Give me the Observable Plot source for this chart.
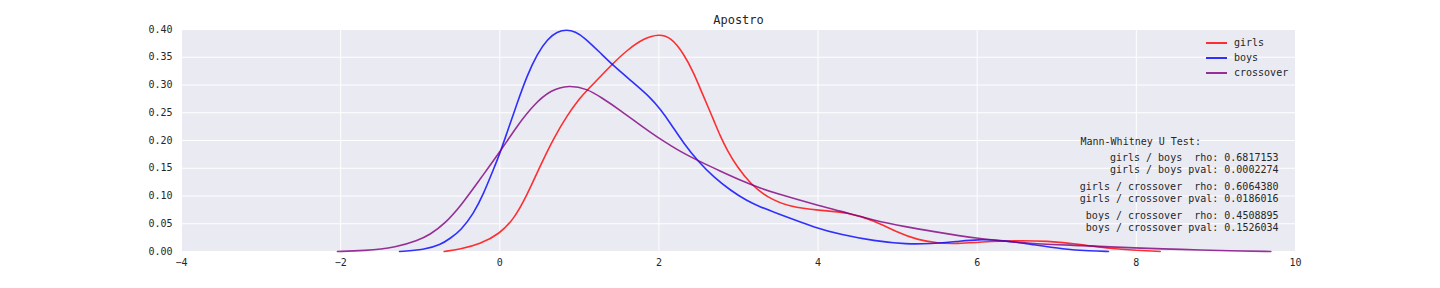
<!DOCTYPE html>
<html>
<head>
<meta charset="utf-8">
<script src="https://cdn.jsdelivr.net/npm/d3@7"></script>
<script src="https://cdn.jsdelivr.net/npm/@observablehq/plot@0.6"></script>
<style>
  html, body { margin: 0; padding: 0; background: #fff; }
  #wrap { position: relative; width: 1440px; height: 288px; }
  #wrap svg text { white-space: pre; }
  #legend { position: absolute; left: 1206px; top: 35px; font: 10px "DejaVu Sans Mono", monospace; color: #262626; }
  #legend .row { display: flex; align-items: center; height: 15px; }
  #legend .sw { display: inline-block; width: 21px; height: 2px; margin-right: 7px; }
</style>
</head>
<body>
<div id="wrap"></div>
<script>
const title = "Apostro";
const seriesNames = ["girls", "boys", "crossover"];
const seriesColors = ["rgba(255,0,0,0.8)", "rgba(0,0,255,0.8)", "rgba(128,0,128,0.8)"];

const girls = [
  [-0.70, 0.000], [-0.5, 0.004], [-0.25, 0.013], [0, 0.032], [0.18, 0.059], [0.34, 0.101],
  [0.51, 0.155], [0.68, 0.205], [0.85, 0.246], [1.01, 0.277], [1.10, 0.291], [1.27, 0.316],
  [1.41, 0.337], [1.60, 0.363], [1.81, 0.384], [2.0, 0.392], [2.15, 0.386], [2.31, 0.357],
  [2.44, 0.321], [2.52, 0.293], [2.61, 0.263], [2.69, 0.236], [2.77, 0.208], [2.86, 0.182],
  [2.98, 0.153], [3.15, 0.122], [3.36, 0.097], [3.65, 0.080], [4.01, 0.074], [4.37, 0.071],
  [4.70, 0.056], [4.99, 0.035], [5.25, 0.021], [5.5, 0.015], [5.75, 0.014], [6.04, 0.017],
  [6.46, 0.020], [6.88, 0.019], [7.30, 0.013], [7.68, 0.005], [8.0, 0.002], [8.30, 0.000]
];
const boys = [
  [-1.26, 0.000], [-0.95, 0.003], [-0.745, 0.012], [-0.62, 0.024], [-0.49, 0.038], [-0.33, 0.068],
  [-0.20, 0.105], [-0.08, 0.148], [0, 0.176], [0.09, 0.214], [0.22, 0.268], [0.34, 0.316],
  [0.47, 0.356], [0.60, 0.383], [0.72, 0.396], [0.84, 0.400], [0.95, 0.396], [1.06, 0.386],
  [1.27, 0.357], [1.41, 0.337], [1.68, 0.304], [1.89, 0.278], [2.02, 0.256], [2.15, 0.230],
  [2.31, 0.195], [2.50, 0.161], [2.69, 0.134], [2.90, 0.110], [3.11, 0.091], [3.28, 0.080],
  [3.44, 0.071], [4.0, 0.041], [4.28, 0.031], [4.70, 0.019], [5.12, 0.013], [5.41, 0.014],
  [5.75, 0.018], [6.0, 0.022], [6.33, 0.020], [6.67, 0.013], [7.09, 0.004], [7.42, 0.001],
  [7.65, 0.000]
];
const crossover = [
  [-2.04, 0.000], [-1.71, 0.001], [-1.29, 0.008], [-1.04, 0.019], [-0.87, 0.031], [-0.70, 0.049],
  [-0.49, 0.082], [-0.24, 0.132], [0, 0.179], [0.22, 0.227], [0.43, 0.265], [0.64, 0.291],
  [0.87, 0.300], [1.10, 0.293], [1.27, 0.278], [1.52, 0.254], [1.77, 0.227], [2.0, 0.204],
  [2.15, 0.191], [2.27, 0.180], [2.50, 0.163], [2.77, 0.145], [3.03, 0.128], [3.28, 0.114],
  [3.44, 0.106], [4.0, 0.083], [4.28, 0.073], [4.70, 0.056], [5.12, 0.044], [5.41, 0.037],
  [6.0, 0.023], [6.67, 0.014], [7.30, 0.011], [8.0, 0.006], [8.55, 0.004], [9.2, 0.001],
  [9.69, 0.000]
];

const xTicks = [-4, -2, 0, 2, 4, 6, 8, 10];
const yTicks = [0, 0.05, 0.10, 0.15, 0.20, 0.25, 0.30, 0.35, 0.40];

const statsHeader = "Mann-Whitney U Test:";
const statsLines = [
  "girls / boys  rho: 0.6817153",
  "girls / boys pval: 0.0002274",
  "girls / crossover  rho: 0.6064380",
  "girls / crossover pval: 0.0186016",
  "boys / crossover  rho: 0.4508895",
  "boys / crossover pval: 0.1526034"
];

const allSeries = [girls, boys, crossover];
const rows = allSeries.flatMap((s, i) => s.map(([x, y]) => ({x, y, series: seriesNames[i]})));

const lineOffsets = [128, 140, 157, 169, 186, 198];

const plot = Plot.plot({
  width: 1440,
  height: 288,
  marginTop: 29,
  marginBottom: 37,
  marginLeft: 181,
  marginRight: 145,
  style: { fontFamily: "'DejaVu Sans Mono', monospace", fontSize: "10px", color: "#262626", background: "white" },
  x: { domain: [-4, 10], ticks: xTicks, tickFormat: d3.format("d"), tickSize: 0, tickPadding: 7, label: null },
  y: { domain: [0, 0.4], ticks: yTicks, tickFormat: d3.format(".2f"), tickSize: 0, tickPadding: 9, label: null },
  color: { domain: seriesNames, range: seriesColors },
  marks: [
    Plot.frame({ fill: "#EAEAF2", stroke: null }),
    Plot.gridX(xTicks, { stroke: "white", strokeOpacity: 1, strokeWidth: 1 }),
    Plot.gridY(yTicks, { stroke: "white", strokeOpacity: 1, strokeWidth: 1 }),
    Plot.axisX(xTicks, { tickSize: 0, tickPadding: 7, tickFormat: d3.format("d"), fill: "#262626", label: null }),
    Plot.axisY(yTicks, { tickSize: 0, tickPadding: 9, tickFormat: d3.format(".2f"), fill: "#262626", label: null }),
    Plot.line(rows, { x: "x", y: "y", z: "series", stroke: "series", strokeWidth: 1.6, curve: "basis" }),
    Plot.text([title], { text: d => d, frameAnchor: "top", dy: -9, lineAnchor: "middle", fontSize: 12, fill: "#262626" }),
    Plot.text([statsHeader], { text: d => d, frameAnchor: "top-right", textAnchor: "start", dx: -215, dy: 112, lineAnchor: "middle", fill: "#262626" }),
    ...statsLines.map((t, i) => Plot.text([t], { text: d => d, frameAnchor: "top-right", textAnchor: "end", dx: -17, dy: lineOffsets[i], lineAnchor: "middle", fill: "#262626" }))
  ]
});

const wrap = document.getElementById("wrap");
wrap.appendChild(plot);

const legend = document.createElement("div");
legend.id = "legend";
seriesNames.forEach((n, i) => {
  const row = document.createElement("div");
  row.className = "row";
  const sw = document.createElement("span");
  sw.className = "sw";
  sw.style.background = seriesColors[i];
  const lab = document.createElement("span");
  lab.textContent = n;
  row.appendChild(sw);
  row.appendChild(lab);
  legend.appendChild(row);
});
wrap.appendChild(legend);
</script>
</body>
</html>
